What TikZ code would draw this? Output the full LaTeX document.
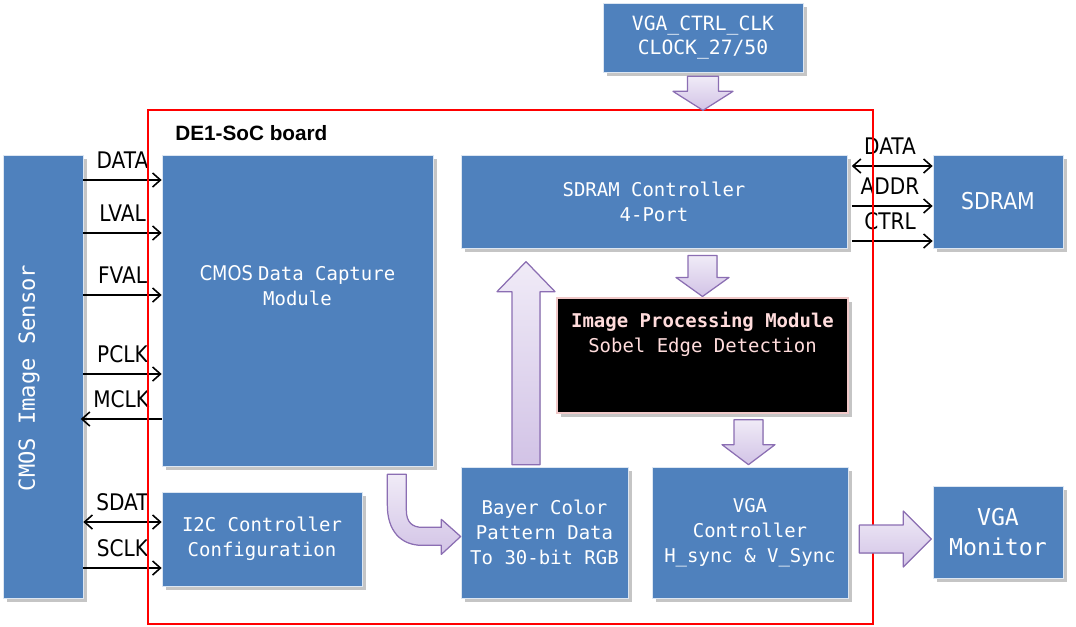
\documentclass[tikz,border=0pt]{standalone}
\usepackage{fontspec}
\usetikzlibrary{calc,shadows,arrows.meta}
\newfontfamily\monof{DejaVu Sans Mono}
\newfontfamily\sansf{DejaVu Sans}[FakeStretch=0.88]
\newfontfamily\arialf{Liberation Sans}
\definecolor{boxblue}{HTML}{4F81BD}
\definecolor{lavtop}{HTML}{F0EBF7}
\definecolor{lavbot}{HTML}{D2C3E6}
\definecolor{lavline}{HTML}{8B6EB3}
\definecolor{pinktext}{HTML}{FFDCDC}
\definecolor{pinkline}{HTML}{F0C8C8}
\begin{document}
\begin{tikzpicture}[x=0.02cm,y=-0.02cm,
  blk/.style={fill=boxblue, draw=white!80!boxblue, line width=0.4pt,
    drop shadow={shadow xshift=2.3pt, shadow yshift=-2.3pt, opacity=0.45},
    text=white, inner sep=0pt, align=center},
  monotxt/.style={font=\monof\fontsize{10.8}{14.3}\selectfont},
  sig/.style={line width=0.9pt, -{Straight Barb[length=4.5pt,width=8pt]}},
  sigb/.style={line width=0.9pt, {Straight Barb[length=4.5pt,width=8pt]}-{Straight Barb[length=4.5pt,width=8pt]}},
  lab/.style={font=\sansf\fontsize{13}{14}\selectfont, inner sep=0pt, above=6pt, text=black},
  fat/.style={draw=lavline, line width=0.7pt, top color=lavtop, bottom color=lavbot, line join=round}]
\useasboundingbox (0,0) rectangle (1076,626);
\fill[white] (0,0) rectangle (1076,626);

% boxes
\node[blk, minimum width=80*0.02cm, minimum height=443*0.02cm] (sensor) at (43,376.5) {};
\node[rotate=90, text=white, inner sep=0pt, font=\monof\fontsize{12.6}{14}\selectfont] (sensortxt) at (29,378) {CMOS Image Sensor};

\node[blk, minimum width=271*0.02cm, minimum height=311*0.02cm] (capture) at (297.5,310.5) {};
\node[monotxt, text=white, align=center, inner sep=0pt] (capturetxt) at (297.5,285.5)
  {{\sansf\fontsize{11.5}{14.3}\selectfont CMOS}\hspace{3pt}Data Capture\\Module};

\node[blk, monotxt, minimum width=200*0.02cm, minimum height=94*0.02cm] (i2c) at (262,539) {I2C Controller\\Configuration};

\node[blk, monotxt, minimum width=386*0.02cm, minimum height=93*0.02cm] (sdramctl) at (654,201.5) {SDRAM Controller\\4-Port};

\node[fill=black, draw=pinkline, line width=0.6pt,
  drop shadow={shadow xshift=2.3pt, shadow yshift=-2.3pt, opacity=0.45},
  minimum width=291*0.02cm, minimum height=115*0.02cm] (improc) at (702.5,355.5) {};
\node[monotxt, text=pinktext, align=center, inner sep=0pt] (improctxt) at (702.5,334)
  {\textbf{Image Processing Module}\\Sobel Edge Detection};

\node[blk, monotxt, minimum width=167*0.02cm, minimum height=131*0.02cm] (bayer) at (544.5,532.5) {Bayer Color\\Pattern Data\\To 30-bit RGB};

\node[blk, monotxt, minimum width=196*0.02cm, minimum height=131*0.02cm] (vgactl) at (750,532.5) {VGA\\Controller\\H\_sync \& V\_Sync};

\node[blk, font=\sansf\fontsize{13.2}{14}\selectfont, minimum width=130*0.02cm, minimum height=93*0.02cm] (sdram) at (998,201.5) {SDRAM};

\node[blk, font=\monof\fontsize{13.2}{17}\selectfont, minimum width=130*0.02cm, minimum height=92*0.02cm] (monitor) at (998,532) {VGA\\Monitor};

\node[blk, font=\monof\fontsize{11.2}{14.2}\selectfont, minimum width=200*0.02cm, minimum height=69*0.02cm] (clk) at (703,37.5) {VGA\_CTRL\_CLK\\CLOCK\_27/50};

% signal rows
\coordinate (yDATA) at (0,180);
\coordinate (yLVAL) at (0,233);
\coordinate (yFVAL) at (0,295);
\coordinate (yPCLK) at (0,374);
\coordinate (yMCLK) at (0,419);
\coordinate (ySDAT) at (0,522);
\coordinate (ySCLK) at (0,568);
\coordinate (yRDATA) at (0,166);
\coordinate (yADDR) at (0,206);
\coordinate (yCTRL) at (0,241);

\draw[sig] (sensor.east |- yDATA) -- (capture.west |- yDATA) node[lab, midway] (lDATA) {DATA};
\draw[sig] (sensor.east |- yLVAL) -- (capture.west |- yLVAL) node[lab, midway] (lLVAL) {LVAL};
\draw[sig] (sensor.east |- yFVAL) -- (capture.west |- yFVAL) node[lab, midway] (lFVAL) {FVAL};
\draw[sig] (sensor.east |- yPCLK) -- (capture.west |- yPCLK) node[lab, midway] (lPCLK) {PCLK};
\draw[sig] (capture.west |- yMCLK) -- ([xshift=-1.5pt]sensor.east |- yMCLK) node[lab, midway] (lMCLK) {MCLK};
\draw[sigb] (sensor.east |- ySDAT) -- (i2c.west |- ySDAT) node[lab, midway] (lSDAT) {SDAT};
\draw[sig] (sensor.east |- ySCLK) -- (i2c.west |- ySCLK) node[lab, midway] (lSCLK) {SCLK};

\draw[sigb, shorten <=2.5pt] (sdramctl.east |- yRDATA) -- (sdram.west |- yRDATA) node[lab, midway] (lRDATA) {DATA};
\draw[sig, shorten <=2.5pt] (sdramctl.east |- yADDR) -- (sdram.west |- yADDR) node[lab, midway] (lADDR) {ADDR};
\draw[sig, shorten <=2.5pt] (sdramctl.east |- yCTRL) -- (sdram.west |- yCTRL) node[lab, midway] (lCTRL) {CTRL};

% board outline
\node[draw=red, line width=0.9pt, minimum width=725*0.02cm, minimum height=514*0.02cm, inner sep=0pt] (board) at (510.5,367) {};
\node[anchor=west, inner sep=0pt, font=\arialf\bfseries\fontsize{11.8}{13}\selectfont] (boardtxt) at (175,133) {DE1-SoC board};

% fat arrows
\filldraw[fat] ($(clk.south)+(-15.5,4)$) -- ++(0,15) -- ++(-14.5,0) -- ++(30,19) -- ++(30,-19) -- ++(-14.5,0) -- ++(0,-15) -- cycle;
\filldraw[fat] ($(improc.north)+(-14.5,-42)$) -- ++(0,22) -- ++(-12,0) -- ++(26.5,19) -- ++(26.5,-19) -- ++(-12,0) -- ++(0,-22) -- cycle;
\filldraw[fat] ($(vgactl.north)+(-16,-47)$) -- ++(0,25) -- ++(-12,0) -- ++(26.5,20) -- ++(26.5,-20) -- ++(-12,0) -- ++(0,-25) -- cycle;
\filldraw[fat] ($(bayer.north)+(-32.5,-2)$) -- ++(0,-173) -- ++(-15,0) -- ++(29,-30) -- ++(29,30) -- ++(-15,0) -- ++(0,173) -- cycle;
\filldraw[fat] ($(vgactl.east)+(11,-7.5)$) -- ++(44,0) -- ++(0,-14) -- ++(28,28) -- ++(-28,28) -- ++(0,-14) -- ++(-44,0) -- cycle;
\coordinate (b0) at ($(capture.south east)+(-46,8)$);
\filldraw[fat] (b0) -- ($(b0)+(0,31)$) .. controls ($(b0)+(0,56)$) and ($(b0)+(13,71)$) .. ($(b0)+(35,71)$)
  -- ($(b0)+(54,71)$) -- ($(b0)+(54,80)$) -- ($(bayer.west)+(0,4)$) -- ($(b0)+(54,45)$) -- ($(b0)+(54,53)$)
  -- ($(b0)+(35,53)$) .. controls ($(b0)+(25,53)$) and ($(b0)+(19,48)$) .. ($(b0)+(19,36)$) -- ($(b0)+(19,0)$) -- cycle;
\end{tikzpicture}
\end{document}
